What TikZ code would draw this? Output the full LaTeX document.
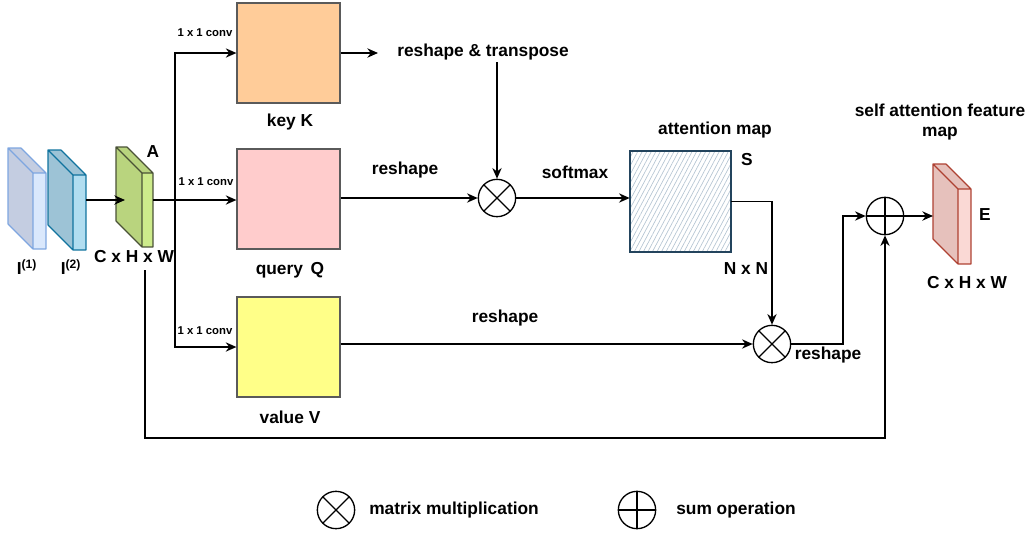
\documentclass[tikz,border=0pt]{standalone}
\usepackage{fontspec}
\setmainfont{Liberation Sans}
\usetikzlibrary{arrows.meta,patterns.meta,calc}

\definecolor{boxline}{HTML}{5A5A5A}
\definecolor{keyfill}{HTML}{FFCC99}
\definecolor{queryfill}{HTML}{FFCCCC}
\definecolor{valuefill}{HTML}{FFFF88}
\definecolor{hatch}{HTML}{B4C4D2}
\definecolor{hatchline}{HTML}{23445D}
\definecolor{ionedark}{HTML}{C4CDE1}
\definecolor{ionelight}{HTML}{DAE8FC}
\definecolor{ioneline}{HTML}{7EA6E0}
\definecolor{itwodark}{HTML}{9DC3D6}
\definecolor{itwolight}{HTML}{B1DDF0}
\definecolor{itwoline}{HTML}{10739E}
\definecolor{adark}{HTML}{B9D47E}
\definecolor{alight}{HTML}{CDEB8B}
\definecolor{aline}{HTML}{4A5236}
\definecolor{edark}{HTML}{E6C1BC}
\definecolor{elight}{HTML}{FAD9D5}
\definecolor{eline}{HTML}{AE4132}

% one feature map drawn as a thin slab: front face at (x0,y0), w x h, depth d
\newcommand{\slab}[8]{%
  \fill[#6] (#1,#2) -- ++(-#5,-#5) -- ++(0,#4) -- ++(#5,#5) -- cycle;
  \fill[#6] (#1,#2) -- ++(-#5,-#5) -- ++(#3,0) -- ++(#5,#5) -- cycle;
  \fill[#7] (#1,#2) rectangle ++(#3,#4);
  \draw[#8, line width=0.9pt, line join=round]
    (#1,#2) -- ++(-#5,-#5) -- ++(#3,0) -- ++(#5,#5)
    (#1,#2) ++(0,#4) -- ++(-#5,-#5) -- ++(0,-#4)
    (#1,#2) rectangle ++(#3,#4);
}

\tikzset{
  lbl/.style={font=\bfseries\fontsize{13}{15.5}\selectfont, inner sep=0pt, align=center},
  small/.style={font=\bfseries\fontsize{8.5}{10}\selectfont, inner sep=0pt},
  mapbox/.style={draw=boxline, line width=0.9pt, minimum width=77.25pt, minimum height=75pt, inner sep=0pt},
  op/.style={circle, draw, line width=1pt, minimum size=28pt, inner sep=0pt},
  mult/.style={op, path picture={
      \draw[line width=1pt] (path picture bounding box.north west) -- (path picture bounding box.south east)
                            (path picture bounding box.north east) -- (path picture bounding box.south west);}},
  plus/.style={op, path picture={
      \draw[line width=1pt] (path picture bounding box.north) -- (path picture bounding box.south)
                            (path picture bounding box.west) -- (path picture bounding box.east);}},
  link/.style={line width=1pt},
  arr/.style={link, -{Stealth[length=8pt,width=7pt]}},
}

\begin{document}
\begin{tikzpicture}[x=0.75pt, y=-0.75pt]
\useasboundingbox (0,0) rectangle (1028,533);

% input feature maps, A and E
\slab{33}{173}{13}{76}{25}{fill=ionedark}{fill=ionelight}{draw=ioneline}
\slab{73}{175}{13}{75}{25}{fill=itwodark}{fill=itwolight}{draw=itwoline}
\slab{142}{173}{11}{74}{26}{fill=adark}{fill=alight}{draw=aline}
\slab{958}{189}{13}{75}{25}{fill=edark}{fill=elight}{draw=eline}

\coordinate (i2-out) at (86,200);
\coordinate (a-in) at (125,200);
\coordinate (a-out) at (153,200);
\coordinate (a-skip) at (145,270);
\coordinate (e-in) at (933,216);

\node[lbl] (i1-lbl) at (27,267) {I\textsuperscript{(1)}};
\node[lbl] (i2-lbl) at (71,267) {I\textsuperscript{(2)}};
\node[lbl] (a-lbl) at (153,152) {A};
\node[lbl] (a-dim) at (134,257) {C x H x W};
\node[lbl] (e-lbl) at (985,215) {E};
\node[lbl] (e-dim) at (967,283) {C x H x W};
\node[lbl] (e-title) at (940,122) {self attention feature\\map};

% key, query and value maps
\node[mapbox, fill=keyfill] (key) at (288.5,53) {};
\node[mapbox, fill=queryfill] (query) at (288.5,199) {};
\node[mapbox, fill=valuefill] (value) at (288.5,347) {};
\node[lbl] (key-lbl) at (290,122) {key K};
\node[lbl] (query-lbl) at (290,270) {query\, Q};
\node[lbl] (value-lbl) at (290,417) {value V};
\node[small] (conv1) at (205,33) {1 x 1 conv};
\node[small] (conv2) at (206,182) {1 x 1 conv};
\node[small] (conv3) at (205,331) {1 x 1 conv};

% attention map
\node[draw=hatchline, line width=0.9pt, fill=white,
      pattern={Lines[angle=62,distance=3pt,line width=0.5pt]}, pattern color=hatch,
      minimum width=75.75pt, minimum height=75.75pt, inner sep=0pt] (att) at (680.5,201.5) {};
\node[lbl] (att-lbl) at (715,130) {attention map};
\node[lbl] (s-lbl) at (747,160) {S};
\node[lbl] (nn-lbl) at (746,269) {N x N};

% operators
\node[mult] (m1) at (497,198) {};
\node[mult] (m2) at (772,344) {};
\node[plus] (sum) at (885,216) {};

% other labels
\coordinate (kt) at (378,53);
\node[lbl] (kt-lbl) at (483,52) {reshape \& transpose};
\node[lbl] (rs1) at (405,170) {reshape};
\node[lbl] (sm) at (575,172) {softmax};
\node[lbl] (rs2) at (505,318) {reshape};
\node[lbl] (rs3) at (828,355) {reshape};

% connectors
\draw[arr] (i2-out) -- (a-in);
\coordinate (split) at (175,200);
\draw[arr] (a-out) -- (query.west |- a-out);
\draw[arr] (split) |- (key.west);
\draw[arr] (split) |- (value.west);
\draw[arr] (key.east) -- (kt);
\draw[arr] (m1.north |- 0,62) -- (m1.north);
\draw[arr] (query.east |- m1.west) -- (m1.west);
\draw[arr] (m1.east) -- (att.west |- m1.east);
\draw[arr] (att.east) -| (m2.north);
\draw[arr] (value.east |- m2.west) -- (m2.west);
\coordinate (bend) at (843,280);
\draw[arr] (m2.east) -| (bend) |- (sum.west);
\draw[arr] (sum.east) -- (e-in);
\coordinate (skip) at (145,438);
\draw[arr] (a-skip) -- (skip) -| (sum.south);

% legend
\node[mult] (leg-m) at (336,510) {};
\node[lbl, anchor=west] (leg-m-lbl) at (369,510) {matrix multiplication};
\node[plus] (leg-s) at (637,510) {};
\node[lbl, anchor=west] (leg-s-lbl) at (676,510) {sum operation};
\end{tikzpicture}
\end{document}
